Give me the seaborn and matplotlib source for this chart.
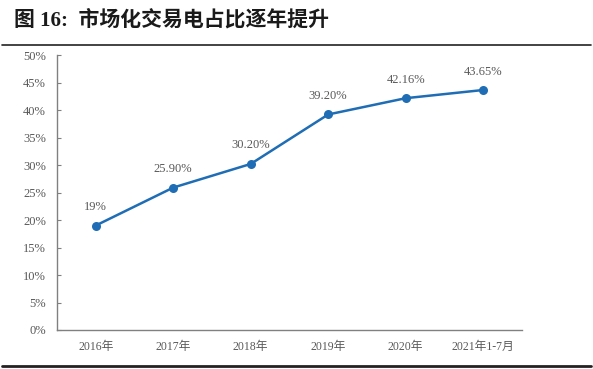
import matplotlib
matplotlib.use("Agg")
import matplotlib.pyplot as plt
import numpy as np
import pandas as pd
import seaborn as sns
from matplotlib import ticker

# data
years = ["2016年", "2017年", "2018年", "2019年", "2020年", "2021年1-7月"]
share = [19.0, 25.90, 30.20, 39.20, 42.16, 43.65]
labels = ["19%", "25.90%", "30.20%", "39.20%", "42.16%", "43.65%"]

title = "图 16:  市场化交易电占比逐年提升"

sns.set_theme(style="white")
plt.rcParams['font.family'] = ['Liberation Serif', 'Noto Sans CJK SC']

df = pd.DataFrame({"year": years, "share": share})

fig = plt.figure(figsize=(5.93, 3.69), dpi=100)
ax = fig.add_axes([0.0961, 0.1057, 0.784, 0.745])

blue = "#1f6db5"
grey = "#595959"
sns.lineplot(data=df, x="year", y="share", ax=ax, color=blue, linewidth=1.8,
             marker="o", markersize=6.5, markeredgewidth=0, sort=False)

for i, (v, t) in enumerate(zip(share, labels)):
    ax.annotate(t, (i, v), xytext=(0, 9), textcoords="offset points",
                ha="center", va="bottom", fontsize=9, color=grey)

ax.set_xlim(-0.5, len(years) - 0.5)
ax.set_ylim(0, 50)
ax.yaxis.set_major_locator(ticker.MultipleLocator(5))
ax.yaxis.set_major_formatter(ticker.FuncFormatter(lambda x, pos: "{:.0f}%".format(x)))
ax.set_xticks(range(len(years)))
ax.set_xticklabels(years)
ax.set_xticks(np.arange(-0.5, len(years)), minor=True)
ax.tick_params(axis="x", which="major", length=0, labelsize=8.5, labelcolor=grey, pad=8)
ax.tick_params(axis="x", which="minor", length=4, direction="inout", color="#808080", width=0.8)
ax.tick_params(axis="y", which="major", length=3, direction="in", labelsize=9,
               labelcolor=grey, color="#808080", width=0.8, left=True, pad=8)
ax.set_xlabel("")
ax.set_ylabel("")
for side in ["top", "right"]:
    ax.spines[side].set_visible(False)
for side in ["left", "bottom"]:
    ax.spines[side].set_color("#808080")
    ax.spines[side].set_linewidth(1.0)

fig.text(0.024, 0.945, title, fontsize=15, fontweight="bold", color="#1a1a1a",
         va="center", ha="left", family=['Liberation Serif', 'Noto Sans CJK SC'])
fig.add_artist(plt.Line2D([0.003, 0.997], [0.878, 0.878], color="#222222", linewidth=1.2))
fig.add_artist(plt.Line2D([0.003, 0.997], [0.008, 0.008], color="#222222", linewidth=2))

fig.savefig("out.png", dpi=100)
